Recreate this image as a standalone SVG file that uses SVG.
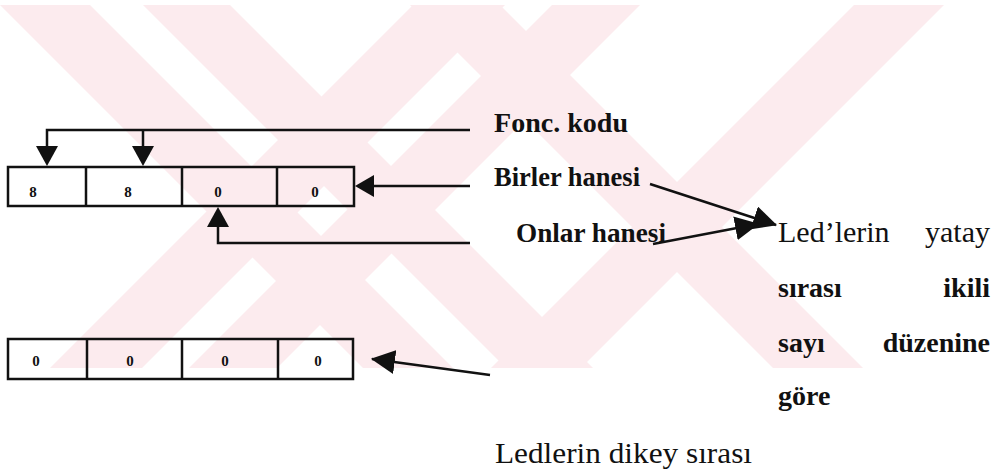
<svg xmlns="http://www.w3.org/2000/svg" width="1000" height="474" viewBox="0 0 1000 474">
<defs>
<clipPath id="wmclip"><rect x="0" y="5" width="1000" height="363"/></clipPath>
<marker id="ah" markerUnits="userSpaceOnUse" markerWidth="24" markerHeight="24" viewBox="0 0 22 22" refX="21" refY="11" orient="auto">
<path d="M0,0 L22,11 L0,22 z" fill="#111"/>
</marker>
</defs>
<style>
.wm{fill:#fcebee}
.box{fill:none;stroke:#111;stroke-width:2.5}
.ln{fill:none;stroke:#111;stroke-width:2.5}
.lbl{font-family:"Liberation Serif","Times New Roman",serif;font-size:28px;fill:#111}
.r{font-size:30px}
.b{font-weight:bold}
.dg{font-family:"Liberation Serif","Times New Roman",serif;font-size:15px;font-weight:bold;fill:#111;text-anchor:middle}
</style>
<rect width="1000" height="474" fill="#fff"/>
<g id="watermark" clip-path="url(#wmclip)">
<polygon class="wm" points="0,5 90,5 490,405 400,405"/>
<polygon class="wm" points="143,5 230,5 630,405 543,405"/>
<polygon class="wm" points="413,5 505,5 105,405 13,405"/>
<polygon class="wm" points="552,5 640,5 240,405 152,405"/>
<polygon class="wm" points="410,5 500,5 900,405 810,405"/>
<polygon class="wm" points="854,5 944,5 544,405 454,405"/>
</g>
<g id="connectors">
<polyline class="ln" points="470,130 47,130 47,146"/>
<line class="ln" x1="143" y1="130" x2="143" y2="146"/>
<path d="M36,146 L58,146 L47,166 z" fill="#111"/>
<path d="M132,146 L154,146 L143,166 z" fill="#111"/>
<line class="ln" x1="470" y1="186" x2="372" y2="186"/>
<path d="M374,175 L374,197 L355,186 z" fill="#111"/>
<polyline class="ln" points="470,243 218,243 218,226"/>
<path d="M207,227 L229,227 L218,207 z" fill="#111"/>
<line class="ln" x1="490" y1="375" x2="372" y2="359" marker-end="url(#ah)"/>
<line class="ln" x1="650" y1="184" x2="776" y2="225" marker-end="url(#ah)"/>
<line class="ln" x1="653" y1="244" x2="758" y2="224" marker-end="url(#ah)"/>
</g>
<g id="register-top">
<rect class="box" x="8" y="167" width="346" height="39"/>
<line class="box" x1="86" y1="167" x2="86" y2="206"/>
<line class="box" x1="182" y1="167" x2="182" y2="206"/>
<line class="box" x1="277" y1="167" x2="277" y2="206"/>
<text class="dg" x="33" y="197">8</text>
<text class="dg" x="128" y="197">8</text>
<text class="dg" x="218" y="197">0</text>
<text class="dg" x="315" y="197">0</text>
</g>
<g id="register-bottom">
<rect class="box" x="8" y="339" width="345" height="40"/>
<line class="box" x1="87" y1="339" x2="87" y2="379"/>
<line class="box" x1="182" y1="339" x2="182" y2="379"/>
<line class="box" x1="278" y1="339" x2="278" y2="379"/>
<text class="dg" x="36" y="366">0</text>
<text class="dg" x="130" y="366">0</text>
<text class="dg" x="225" y="366">0</text>
<text class="dg" x="318" y="366">0</text>
</g>
<g id="label-fonc"><text class="lbl b" x="494" y="132" textLength="134" lengthAdjust="spacingAndGlyphs">Fonc. kodu</text></g>
<g id="label-birler"><text class="lbl b" x="494" y="186" textLength="146" lengthAdjust="spacingAndGlyphs">Birler hanesi</text></g>
<g id="label-onlar"><text class="lbl b" x="516" y="242" textLength="150" lengthAdjust="spacingAndGlyphs">Onlar hanesi</text></g>
<g id="label-yatay">
<text class="lbl r" x="778" y="242">Led’lerin</text>
<text class="lbl r" x="990" y="242" text-anchor="end">yatay</text>
<text class="lbl b" x="778" y="297">sırası</text>
<text class="lbl b" x="990" y="297" text-anchor="end">ikili</text>
<text class="lbl b" x="778" y="352">sayı</text>
<text class="lbl b" x="990" y="352" text-anchor="end">düzenine</text>
<text class="lbl b" x="778" y="405">göre</text>
</g>
<g id="label-dikey"><text class="lbl r" x="495" y="463" textLength="257" lengthAdjust="spacingAndGlyphs">Ledlerin dikey sırası</text></g>
</svg>
